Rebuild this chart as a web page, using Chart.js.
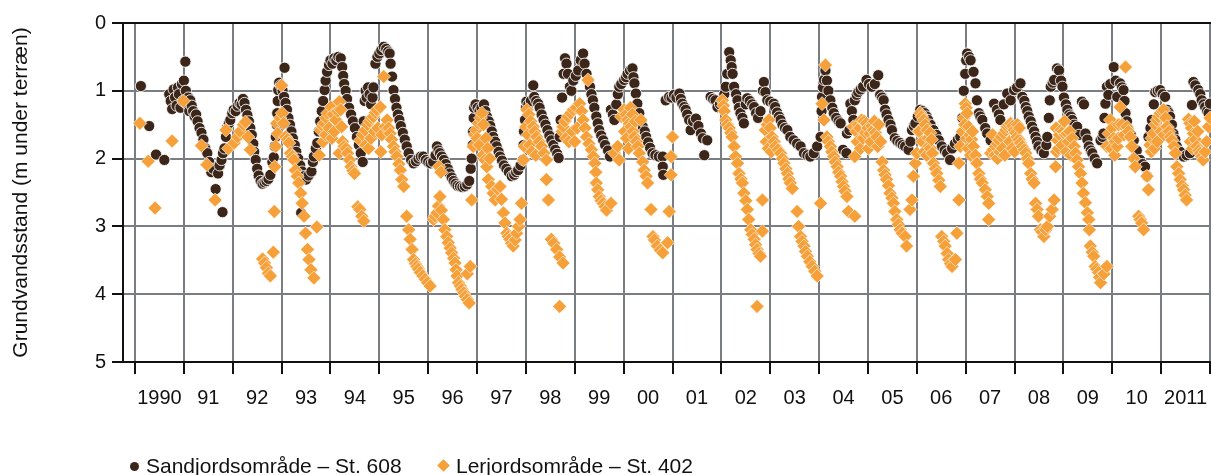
<!DOCTYPE html>
<html>
<head>
<meta charset="utf-8">
<script src="https://cdn.jsdelivr.net/npm/chart.js@4.4.1/dist/chart.umd.min.js"></script>
<style>
  html,body{margin:0;padding:0;background:#fff;overflow:hidden;}
  #wrap{position:relative;width:1211px;height:475px;}
  canvas{position:absolute;left:0;top:0;}
  .lg{position:absolute;font:21px 'Liberation Sans',Arial,sans-serif;color:#111;line-height:21px;white-space:nowrap;}
  .dot{position:absolute;width:9px;height:9px;border-radius:50%;background:#3b2619;}
  .dia{position:absolute;width:9px;height:9px;background:#f6a03a;transform:rotate(45deg);}
</style>
</head>
<body>
<div id="wrap">
  <canvas id="c" width="1211" height="475"></canvas>
  <span class="dot" style="left:130px;top:462px;"></span>
  <span class="lg" style="left:146px;top:455px;">Sandjordsområde – St. 608</span>
  <span class="dia" style="left:439px;top:461px;"></span>
  <span class="lg" style="left:456px;top:455px;">Lerjordsområde – St. 402</span>
</div>
<script>
// ---- data: [decimal year, depth in m below terrain] ----
const yearTicks = [1990,1991,1992,1993,1994,1995,1996,1997,1998,1999,2000,2001,2002,2003,2004,2005,2006,2007,2008,2009,2010,2011,2012];
const yearLabels = ['1990','91','92','93','94','95','96','97','98','99','00','01','02','03','04','05','06','07','08','09','10','2011',''];
const depthTicks = [0,1,2,3,4,5];

const sand1990s = [
[1990.12,0.93],[1990.29,1.52],[1990.43,1.94],[1990.60,2.02],[1990.70,1.05],[1990.73,1.15],[1990.76,1.27],[1990.79,0.98],[1990.82,1.1],[1990.85,1.22],[1990.88,0.95],[1990.90,1.05],[1990.93,1.25],[1990.96,0.9],[1990.98,1.15],[1991.00,0.85],[1991.03,0.57],[1991.04,1.0],[1991.06,1.2],[1991.09,1.1],[1991.11,1.3],[1991.13,1.14],[1991.16,1.22],[1991.19,1.3],[1991.22,1.38],[1991.25,1.35],[1991.28,1.45],[1991.32,1.55],[1991.36,1.62],[1991.40,1.72],[1991.44,1.85],[1991.48,1.92],[1991.52,2.05],[1991.56,2.2],[1991.60,2.15],[1991.65,2.45],[1991.70,2.22],[1991.73,2.1],[1991.79,2.79],
[1991.77,2.02],[1991.80,1.92],[1991.83,1.85],[1991.86,1.68],[1991.88,1.55],[1991.92,1.48],[1991.95,1.43],[1991.99,1.33],[1992.02,1.28],[1992.06,1.3],[1992.10,1.22],[1992.14,1.18],[1992.18,1.2],[1992.21,1.12],[1992.24,1.18],[1992.27,1.28],[1992.30,1.36],[1992.33,1.45],[1992.36,1.55],[1992.39,1.65],[1992.42,1.78],[1992.44,1.9],[1992.47,2.02],[1992.50,2.15],[1992.53,2.25],[1992.57,2.33],[1992.61,2.37],[1992.65,2.35],[1992.69,2.33],[1992.73,2.3],[1992.77,2.24],[1992.81,2.05],[1992.84,1.98],[1992.86,1.82],[1992.88,1.68],[1992.90,1.5],[1992.91,1.33],[1992.92,1.15],[1992.93,0.99],[1992.95,0.88],[1993.06,0.66],[1992.98,0.92],[1993.02,1.0],[1993.05,1.09],[1993.08,1.18],[1993.11,1.28],[1993.14,1.4],[1993.17,1.5],[1993.20,1.6],[1993.23,1.7],[1993.27,1.8],[1993.30,1.9],[1993.34,2.0],[1993.38,2.1],[1993.42,2.19],[1993.46,2.26],[1993.50,2.31],[1993.55,2.25],[1993.61,2.19],[1993.40,2.8],
[1993.64,2.05],[1993.66,1.97],[1993.70,1.85],[1993.73,1.77],[1993.76,1.6],[1993.79,1.45],[1993.82,1.3],[1993.85,1.15],[1993.88,0.99],[1993.90,0.85],[1993.93,0.72],[1993.97,0.62],[1994.00,0.55],[1994.04,0.6],[1994.08,0.52],[1994.12,0.55],[1994.16,0.5],[1994.21,0.52],[1994.24,0.65],[1994.26,0.78],[1994.28,0.9],[1994.31,1.0],[1994.34,1.12],[1994.38,1.25],[1994.42,1.35],[1994.46,1.45],[1994.50,1.55],[1994.54,1.68],[1994.58,1.8],[1994.62,1.92],[1994.66,2.05],[1994.68,1.45],[1994.70,1.15],[1994.72,1.0],[1994.74,1.1],[1994.77,0.95],[1994.80,1.05],[1994.83,1.2],[1994.86,1.1],[1994.88,0.95],[1994.92,0.6],[1994.96,0.5],[1995.00,0.45],[1995.04,0.4],[1995.09,0.35],[1995.14,0.38],[1995.18,0.42],[1995.21,0.45],[1995.23,0.6],[1995.26,0.79],[1995.29,0.99],[1995.32,1.12],[1995.35,1.25],[1995.38,1.35],[1995.41,1.43],[1995.44,1.52],[1995.48,1.62],[1995.52,1.72],[1995.56,1.82],[1995.60,1.92],[1995.65,2.02],[1995.70,2.07],[1995.75,2.04],[1995.80,2.0],[1995.85,1.97],[1995.90,1.97],[1995.95,2.02],
[1996.00,2.05],[1996.05,2.07],[1996.10,2.05],[1996.15,1.95],[1996.18,1.82],[1996.21,1.88],[1996.24,1.92],[1996.28,1.97],[1996.32,2.02],[1996.36,2.08],[1996.40,2.15],[1996.44,2.22],[1996.48,2.28],[1996.52,2.33],[1996.56,2.37],[1996.60,2.4],[1996.65,2.41],[1996.70,2.42],[1996.75,2.41],[1996.80,2.38],[1996.84,2.33],[1996.87,2.15],[1996.89,2.0],[1996.91,1.8],[1996.92,1.6],[1996.93,1.4],[1996.94,1.25],[1996.97,1.2],[1997.01,1.25],[1997.05,1.3],[1997.09,1.25],[1997.14,1.2],[1997.17,1.3],[1997.20,1.38],[1997.24,1.45],[1997.27,1.52],[1997.30,1.6],[1997.33,1.68],[1997.37,1.75],[1997.40,1.82],[1997.44,1.9],[1997.47,1.97],[1997.51,2.03],[1997.55,2.1],[1997.60,2.15],[1997.65,2.2],[1997.71,2.26],[1997.76,2.24],[1997.80,2.2],[1997.84,2.17],[1997.89,2.1],[1997.94,2.02],[1997.95,1.8],[1997.96,1.6],[1997.98,1.43],[1998.00,1.25],[1998.01,1.16],[1998.05,1.2],[1998.10,1.15],[1998.15,0.92],[1998.17,1.09],[1998.21,1.15],[1998.25,1.19],[1998.28,1.25],[1998.32,1.35],[1998.36,1.43],[1998.40,1.5],[1998.44,1.58],[1998.48,1.66],[1998.52,1.73],[1998.56,1.8],[1998.60,1.87],[1998.64,1.93],[1998.67,1.99],[1998.69,1.68],[1998.71,1.43],[1998.74,1.1],[1998.77,0.75],[1998.80,0.52],[1998.83,0.6],[1998.86,0.75],[1998.90,0.94],[1998.93,1.0],[1998.97,0.85],
[1999.02,0.78],[1999.07,0.7],[1999.12,0.55],[1999.17,0.45],[1999.20,0.6],[1999.24,0.75],[1999.28,0.85],[1999.31,0.94],[1999.34,1.05],[1999.37,1.14],[1999.40,1.25],[1999.44,1.38],[1999.47,1.48],[1999.50,1.58],[1999.54,1.66],[1999.58,1.73],[1999.62,1.8],[1999.68,1.88],[1999.72,1.97],[1999.74,1.28],[1999.78,1.35],[1999.81,1.43],[1999.85,1.2],[1999.88,1.05],[1999.91,0.94],[1999.95,0.9]
];
const sand2000s = [
[2000.01,0.84],[2000.05,0.8],[2000.08,0.75],[2000.13,0.7],[2000.18,0.67],[2000.20,0.8],[2000.22,0.89],[2000.25,1.04],[2000.28,1.19],[2000.32,1.33],[2000.36,1.45],[2000.39,1.53],[2000.43,1.6],[2000.46,1.68],[2000.50,1.76],[2000.54,1.84],[2000.59,1.92],[2000.65,1.95],[2000.72,1.97],[2000.80,1.97],[2000.80,2.12],[2000.81,2.24],[2000.86,1.14],[2000.93,1.09],[2000.98,1.1],[2001.03,1.06],[2001.08,1.1],[2001.14,1.04],[2001.17,1.12],[2001.20,1.19],[2001.24,1.24],[2001.27,1.28],[2001.30,1.35],[2001.34,1.43],[2001.37,1.58],[2001.42,1.45],[2001.48,1.41],[2001.53,1.52],[2001.58,1.63],[2001.62,1.7],[2001.65,1.95],[2001.71,1.73],[2001.78,1.09],[2001.83,1.12],[2001.88,1.14],[2001.92,1.24],[2001.97,1.2],
[2002.02,1.14],[2002.06,1.05],[2002.09,0.94],[2002.12,0.75],[2002.16,0.43],[2002.19,0.55],[2002.21,0.65],[2002.23,0.75],[2002.26,0.94],[2002.30,1.05],[2002.33,1.14],[2002.36,1.25],[2002.39,1.33],[2002.43,1.4],[2002.46,1.48],[2002.50,1.2],[2002.53,1.11],[2002.58,1.15],[2002.63,1.2],[2002.67,1.24],[2002.71,1.33],[2002.75,1.4],[2002.80,1.3],[2002.85,1.0],[2002.87,0.87],[2002.90,1.02],[2002.94,1.14],[2003.00,1.16],[2003.07,1.19],[2003.10,1.24],[2003.14,1.32],[2003.18,1.38],[2003.21,1.43],[2003.25,1.5],[2003.30,1.55],[2003.35,1.58],[2003.41,1.68],[2003.48,1.73],[2003.55,1.78],[2003.62,1.82],[2003.69,1.92],[2003.76,1.95],[2003.82,1.97],[2003.89,1.92],[2003.96,1.82],
[2004.03,1.68],[2004.05,1.3],[2004.06,1.09],[2004.08,0.95],[2004.10,0.84],[2004.13,0.7],[2004.16,0.85],[2004.19,1.0],[2004.23,1.14],[2004.27,1.25],[2004.30,1.33],[2004.35,1.4],[2004.40,1.45],[2004.44,1.48],[2004.49,1.87],[2004.56,1.92],[2004.57,1.63],[2004.62,1.58],[2004.64,1.19],[2004.67,1.3],[2004.70,1.43],[2004.73,1.14],[2004.77,1.06],[2004.80,1.02],[2004.85,0.98],[2004.90,0.94],[2004.97,0.84],[2005.02,0.9],[2005.08,0.94],[2005.14,0.9],[2005.21,0.77],[2005.25,1.06],[2005.29,1.1],[2005.32,1.14],[2005.35,1.28],[2005.38,1.35],[2005.42,1.43],[2005.46,1.5],[2005.49,1.58],[2005.55,1.7],[2005.60,1.74],[2005.66,1.77],[2005.71,1.8],[2005.76,1.82],[2005.83,1.87],[2005.87,1.75],[2005.90,1.58],[2005.94,1.52],[2005.97,1.48],
[2006.02,1.38],[2006.07,1.28],[2006.12,1.3],[2006.16,1.33],[2006.20,1.38],[2006.23,1.43],[2006.28,1.5],[2006.34,1.58],[2006.40,1.65],[2006.45,1.73],[2006.51,1.82],[2006.57,1.88],[2006.62,1.92],[2006.68,2.02],[2006.72,1.85],[2006.78,1.78],[2006.84,1.72],[2006.89,1.68],[2006.93,1.4],[2006.96,1.0],[2006.99,0.75],[2007.01,0.55],[2007.03,0.45],[2007.07,0.5],[2007.10,0.55],[2007.16,0.72],[2007.20,0.89],[2007.23,1.14],[2007.27,1.33],[2007.30,1.38],[2007.34,1.43],[2007.40,1.55],[2007.44,1.63],[2007.51,1.73],[2007.58,1.19],[2007.64,1.28],[2007.68,1.35],[2007.71,1.43],[2007.78,1.2],[2007.85,1.04],[2007.92,1.14],[2007.99,0.99],
[2008.05,0.95],[2008.12,0.89],[2008.16,1.09],[2008.20,1.15],[2008.23,1.24],[2008.26,1.3],[2008.29,1.38],[2008.33,1.45],[2008.36,1.53],[2008.40,1.6],[2008.43,1.68],[2008.46,1.75],[2008.49,1.82],[2008.55,1.88],[2008.60,1.92],[2008.65,1.8],[2008.67,1.68],[2008.70,1.4],[2008.72,1.14],[2008.74,0.94],[2008.78,0.88],[2008.81,0.84],[2008.87,0.67],[2008.91,0.7],[2008.95,0.85],[2008.98,0.94],[2009.01,1.1],[2009.05,1.2],[2009.08,1.28],[2009.12,1.35],[2009.15,1.38],[2009.18,1.43],[2009.22,1.5],[2009.28,1.53],[2009.32,1.65],[2009.38,1.16],[2009.42,1.2],[2009.45,1.63],[2009.49,1.72],[2009.52,1.82],[2009.56,1.88],[2009.59,1.92],[2009.64,2.0],[2009.69,2.07],[2009.76,1.73],[2009.80,1.68],[2009.82,1.63],[2009.84,1.4],[2009.86,1.19],[2009.89,0.94],[2009.92,1.06],[2009.96,0.9]
];
const sand2010s = [
[2010.03,0.65],[2010.07,0.85],[2010.10,1.09],[2010.16,0.89],[2010.20,0.95],[2010.23,0.99],[2010.25,1.15],[2010.27,1.33],[2010.30,1.45],[2010.33,1.58],[2010.38,1.65],[2010.44,1.73],[2010.50,1.88],[2010.57,2.02],[2010.62,2.08],[2010.67,2.12],[2010.71,2.26],[2010.74,1.68],[2010.78,1.55],[2010.81,1.43],[2010.85,1.2],[2010.88,1.02],[2010.93,1.0],[2010.98,0.99],[2011.03,1.05],[2011.08,1.09],[2011.12,1.28],[2011.15,1.32],[2011.18,1.38],[2011.22,1.5],[2011.25,1.63],[2011.29,1.72],[2011.32,1.82],[2011.39,1.9],[2011.46,1.97],[2011.52,1.95],[2011.59,1.92],[2011.61,1.5],[2011.63,1.21],[2011.66,0.87],[2011.70,0.92],[2011.76,0.99],[2011.80,1.05],[2011.83,1.14],[2011.87,1.2],[2011.90,1.24],[2011.94,1.3],[2011.97,1.33],[2012.00,1.19]
];

const clay1990s = [
[1990.10,1.48],[1990.27,2.04],[1990.41,2.73],[1990.76,1.74],[1990.99,1.15],[1991.36,1.81],[1991.47,2.09],[1991.64,2.61],[1991.86,1.58],[1991.91,1.85],[1992.03,1.77],[1992.10,1.68],[1992.15,1.6],[1992.22,1.5],[1992.26,1.46],[1992.31,1.68],[1992.36,1.87],[1992.61,3.48],[1992.65,3.54],[1992.69,3.61],[1992.73,3.69],[1992.77,3.73],[1992.83,3.38],[1992.85,2.78],[1992.86,2.12],[1992.88,1.82],[1992.90,1.48],[1992.92,1.63],[1992.97,1.4],[1993.00,0.92],[1993.01,1.33],[1993.04,1.48],[1993.08,1.68],[1993.12,1.72],[1993.15,1.77],[1993.18,1.92],[1993.22,1.97],[1993.25,2.02],[1993.28,2.17],[1993.32,2.26],[1993.35,2.36],[1993.39,2.51],[1993.42,2.66],[1993.46,2.85],[1993.49,3.1],[1993.53,3.34],[1993.56,3.49],[1993.60,3.64],[1993.66,3.76],[1993.72,3.01],
[1993.77,1.95],[1993.80,1.58],[1993.84,1.52],[1993.85,1.75],[1993.87,1.48],[1993.90,1.65],[1993.91,1.4],[1993.94,1.33],[1993.97,1.55],[1994.01,1.24],[1994.03,1.7],[1994.05,1.35],[1994.08,1.6],[1994.11,1.43],[1994.15,1.3],[1994.18,1.16],[1994.21,1.28],[1994.23,1.53],[1994.18,1.92],[1994.25,1.75],[1994.28,1.82],[1994.32,1.85],[1994.35,1.92],[1994.39,2.02],[1994.42,2.12],[1994.46,2.18],[1994.49,2.22],[1994.56,2.71],[1994.60,2.75],[1994.64,2.85],[1994.68,2.92],[1994.61,1.73],[1994.66,1.65],[1994.71,1.58],[1994.72,1.8],[1994.76,1.5],[1994.78,1.85],[1994.80,1.45],[1994.83,1.7],[1994.84,1.4],[1994.88,1.38],[1994.90,1.6],[1994.92,1.32],[1994.95,1.28],[1994.97,1.55],[1995.02,1.24],[1995.03,1.9],[1995.05,1.65],[1995.09,0.79],[1995.12,1.53],[1995.16,1.43],[1995.19,1.55],[1995.22,1.63],[1995.25,1.72],[1995.29,1.82],[1995.32,1.9],[1995.36,1.97],[1995.40,2.08],[1995.43,2.17],[1995.46,2.31],[1995.50,2.41],[1995.56,2.85],[1995.60,3.05],[1995.63,3.19],[1995.67,3.34],[1995.70,3.49],[1995.74,3.55],[1995.77,3.59],[1995.80,3.63],[1995.84,3.68],[1995.89,3.73],[1995.94,3.78],[1995.99,3.83],
[1996.04,3.88],[1996.11,2.9],[1996.14,2.85],[1996.18,2.8],[1996.21,2.7],[1996.24,2.56],[1996.22,2.12],[1996.26,2.2],[1996.27,2.76],[1996.31,2.9],[1996.34,3.05],[1996.38,3.15],[1996.41,3.24],[1996.45,3.32],[1996.48,3.39],[1996.52,3.47],[1996.55,3.54],[1996.57,3.64],[1996.59,3.73],[1996.62,3.83],[1996.66,3.88],[1996.69,3.93],[1996.73,3.98],[1996.76,4.03],[1996.80,4.08],[1996.84,4.13],[1996.80,3.7],[1996.86,3.59],[1996.89,2.61],[1996.92,1.82],[1996.95,1.65],[1996.98,1.58],[1997.00,1.7],[1997.03,1.48],[1997.05,1.8],[1997.07,1.4],[1997.10,1.33],[1997.12,1.95],[1997.13,1.5],[1997.16,2.02],[1997.18,1.7],[1997.20,2.12],[1997.22,1.85],[1997.23,2.31],[1997.26,2.0],[1997.30,2.41],[1997.33,2.51],[1997.37,2.61],[1997.42,2.45],[1997.47,2.41],[1997.50,2.6],[1997.54,2.8],[1997.57,2.95],[1997.61,3.1],[1997.64,3.15],[1997.67,3.19],[1997.71,3.25],[1997.74,3.29],[1997.78,3.2],[1997.81,3.1],[1997.85,3.0],[1997.88,2.9],[1997.91,2.66],[1997.95,2.02],[1997.97,1.82],
[1998.00,1.53],[1998.02,1.28],[1998.04,1.65],[1998.06,1.35],[1998.08,1.8],[1998.10,1.45],[1998.12,1.9],[1998.15,1.53],[1998.18,1.6],[1998.20,1.95],[1998.22,1.68],[1998.27,1.75],[1998.32,1.82],[1998.37,1.92],[1998.42,2.02],[1998.42,2.31],[1998.46,2.61],[1998.52,3.19],[1998.57,3.25],[1998.63,3.34],[1998.69,3.45],[1998.76,3.54],[1998.69,4.18],[1998.74,1.6],[1998.76,1.53],[1998.80,1.45],[1998.82,1.7],[1998.86,1.38],[1998.88,1.75],[1998.92,1.33],[1998.95,1.6],[1998.97,1.28],[1999.00,1.75],[1999.03,1.25],[1999.05,1.55],[1999.10,1.19],[1999.14,1.3],[1999.17,1.43],[1999.21,1.55],[1999.24,1.68],[1999.27,0.84],[1999.29,1.78],[1999.34,1.87],[1999.38,1.97],[1999.41,2.07],[1999.43,2.2],[1999.44,2.36],[1999.47,2.46],[1999.50,2.56],[1999.54,2.62],[1999.58,2.66],[1999.62,2.71],[1999.65,2.76],[1999.74,2.66],[1999.81,1.92],[1999.88,1.82],[1999.91,2.02],[1999.95,1.38]
];
const clay2000s = [
[2000.01,1.28],[2000.02,1.6],[2000.05,1.35],[2000.06,1.7],[2000.08,1.43],[2000.10,1.85],[2000.12,1.48],[2000.14,1.25],[2000.15,1.53],[2000.18,1.35],[2000.19,1.6],[2000.22,1.68],[2000.24,1.45],[2000.26,1.75],[2000.29,1.82],[2000.32,1.92],[2000.35,1.43],[2000.39,2.05],[2000.42,2.17],[2000.46,2.26],[2000.49,2.36],[2000.56,2.75],[2000.60,3.15],[2000.63,3.2],[2000.69,3.29],[2000.75,3.35],[2000.80,3.39],[2000.90,3.24],[2000.93,2.78],[2000.97,2.24],[2000.97,1.97],[2001.00,1.68],
[2002.02,1.14],[2002.04,1.22],[2002.06,1.3],[2002.09,1.43],[2002.12,1.5],[2002.16,1.55],[2002.19,1.62],[2002.22,1.68],[2002.26,1.82],[2002.29,1.97],[2002.33,2.07],[2002.36,2.22],[2002.40,2.3],[2002.43,2.36],[2002.46,2.51],[2002.50,2.62],[2002.53,2.75],[2002.56,2.9],[2002.60,3.05],[2002.63,3.12],[2002.67,3.19],[2002.70,3.27],[2002.73,3.34],[2002.77,3.4],[2002.80,3.44],[2002.73,4.18],[2002.84,2.61],[2002.84,3.07],[2002.90,1.58],[2002.92,1.75],[2002.94,1.5],[2002.96,1.85],[2002.97,1.43],[2003.00,1.55],[2003.02,1.9],[2003.04,1.68],[2003.08,1.75],[2003.11,1.82],[2003.16,1.87],[2003.21,1.92],[2003.25,2.0],[2003.28,2.07],[2003.32,2.15],[2003.35,2.22],[2003.38,2.3],[2003.41,2.36],[2003.45,2.44],[2003.55,2.78],[2003.58,3.0],[2003.62,3.15],[2003.65,3.22],[2003.69,3.29],[2003.72,3.37],[2003.76,3.44],[2003.81,3.52],[2003.86,3.59],[2003.91,3.66],[2003.96,3.73],
[2004.03,2.66],[2004.06,1.19],[2004.10,1.43],[2004.13,0.62],[2004.16,1.68],[2004.19,1.75],[2004.23,1.82],[2004.26,1.9],[2004.30,1.97],[2004.33,2.05],[2004.37,2.12],[2004.40,2.2],[2004.44,2.26],[2004.47,2.34],[2004.50,2.41],[2004.53,2.48],[2004.57,2.56],[2004.60,2.78],[2004.73,2.85],[2004.70,1.53],[2004.73,1.97],[2004.76,1.6],[2004.78,1.75],[2004.80,1.5],[2004.83,1.55],[2004.85,1.85],[2004.87,1.43],[2004.90,1.7],[2004.92,1.45],[2004.95,1.62],[2004.97,1.48],[2005.00,1.55],[2005.01,1.85],[2005.04,1.63],[2005.06,1.75],[2005.08,1.52],[2005.11,1.58],[2005.13,1.45],[2005.15,1.62],[2005.18,1.68],[2005.20,1.82],[2005.22,1.5],[2005.26,1.75],[2005.29,2.05],[2005.32,2.17],[2005.35,2.24],[2005.38,2.31],[2005.42,2.4],[2005.45,2.51],[2005.49,2.58],[2005.52,2.66],[2005.55,2.78],[2005.59,2.9],[2005.62,2.97],[2005.66,3.05],[2005.70,3.1],[2005.76,3.15],[2005.79,3.29],[2005.86,2.75],[2005.90,2.61],[2005.93,2.26],[2005.97,2.07],
[2006.00,1.92],[2006.03,1.6],[2006.05,1.6],[2006.07,1.33],[2006.10,1.38],[2006.11,1.75],[2006.14,1.43],[2006.15,1.9],[2006.17,1.5],[2006.20,1.95],[2006.21,1.58],[2006.23,1.7],[2006.25,1.82],[2006.27,1.62],[2006.28,1.85],[2006.30,1.72],[2006.32,1.92],[2006.34,2.07],[2006.38,2.15],[2006.41,2.22],[2006.45,2.32],[2006.48,2.41],[2006.51,3.15],[2006.55,3.22],[2006.58,3.29],[2006.62,3.4],[2006.65,3.49],[2006.69,3.55],[2006.72,3.59],[2006.79,3.49],[2006.82,3.1],[2006.86,2.61],[2006.86,2.07],[2006.89,1.82],[2006.93,1.6],[2006.96,1.4],[2006.98,1.5],[2006.99,1.19],[2007.01,1.25],[2007.02,1.7],[2007.03,1.33],[2007.05,1.85],[2007.06,1.53],[2007.09,1.65],[2007.10,1.95],[2007.12,1.72],[2007.14,1.6],[2007.16,1.82],[2007.20,1.95],[2007.23,2.07],[2007.27,2.22],[2007.30,2.3],[2007.34,2.36],[2007.40,2.46],[2007.44,2.56],[2007.47,2.66],[2007.47,2.9],[2007.51,1.92],[2007.55,1.65],[2007.56,1.87],[2007.60,1.95],[2007.61,1.82],[2007.65,2.0],[2007.65,1.78],[2007.68,1.73],[2007.70,1.9],[2007.73,1.68],[2007.75,1.85],[2007.78,1.63],[2007.80,1.95],[2007.82,1.58],[2007.85,1.53],[2007.88,1.5],[2007.90,1.75],[2007.92,1.48],[2007.95,1.85],[2007.96,1.52],
[2007.99,1.58],[2008.00,1.9],[2008.02,1.62],[2008.05,1.68],[2008.06,1.5],[2008.09,1.72],[2008.10,1.55],[2008.12,1.77],[2008.16,1.82],[2008.20,1.87],[2008.23,1.92],[2008.26,2.0],[2008.29,2.07],[2008.33,2.22],[2008.36,2.3],[2008.40,2.36],[2008.43,2.66],[2008.46,2.75],[2008.49,2.85],[2008.53,3.05],[2008.56,3.08],[2008.60,3.15],[2008.64,3.05],[2008.67,3.0],[2008.72,2.85],[2008.77,2.75],[2008.81,2.61],[2008.84,2.12],[2008.85,1.55],[2008.86,1.9],[2008.88,1.73],[2008.90,1.85],[2008.92,1.65],[2008.95,1.58],[2008.97,1.8],[2009.00,1.6],[2009.02,1.45],[2009.04,1.65],[2009.06,1.9],[2009.08,1.63],[2009.10,1.75],[2009.13,1.6],[2009.15,1.95],[2009.18,1.7],[2009.22,1.82],[2009.25,1.92],[2009.28,2.02],[2009.31,2.12],[2009.35,2.22],[2009.38,2.36],[2009.41,2.51],[2009.45,2.65],[2009.49,2.8],[2009.52,2.9],[2009.53,3.05],[2009.55,3.29],[2009.59,3.38],[2009.62,3.44],[2009.65,3.59],[2009.68,3.63],[2009.72,3.68],[2009.74,3.75],[2009.76,3.83],[2009.83,3.7],[2009.89,3.59],[2009.89,1.82],[2009.93,1.63],[2009.96,1.43],[2009.98,1.85]
];
const clay2010s = [
[2010.00,1.55],[2010.03,1.7],[2010.05,1.95],[2010.06,1.75],[2010.10,1.82],[2010.12,1.7],[2010.13,1.5],[2010.16,1.24],[2010.20,1.5],[2010.24,1.65],[2010.27,0.65],[2010.30,1.53],[2010.33,1.6],[2010.37,1.68],[2010.40,1.82],[2010.44,2.0],[2010.47,2.12],[2010.54,2.85],[2010.57,2.9],[2010.60,2.95],[2010.64,3.05],[2010.71,2.26],[2010.74,2.46],[2010.77,1.8],[2010.80,1.9],[2010.81,1.7],[2010.84,1.63],[2010.86,1.85],[2010.88,1.5],[2010.91,1.43],[2010.92,1.75],[2010.95,1.38],[2010.98,1.33],[2011.00,1.6],[2011.02,1.3],[2011.05,1.28],[2011.06,1.65],[2011.09,1.4],[2011.12,1.53],[2011.16,1.6],[2011.19,1.68],[2011.22,1.73],[2011.26,1.82],[2011.29,1.92],[2011.32,2.12],[2011.36,2.22],[2011.39,2.31],[2011.43,2.4],[2011.46,2.46],[2011.49,2.54],[2011.52,2.61],[2011.56,1.42],[2011.59,1.48],[2011.60,1.75],[2011.62,1.55],[2011.64,1.85],[2011.66,1.63],[2011.68,1.45],[2011.70,1.72],[2011.73,1.82],[2011.75,1.6],[2011.77,1.88],[2011.80,1.92],[2011.83,1.97],[2011.86,2.02],[2011.90,1.9],[2011.93,1.75],[2011.97,1.53],[2012.00,1.4]
];

const toXY = arr => arr.map(p => ({x: p[0], y: p[1]}));
const sandData = toXY([...sand1990s, ...sand2000s, ...sand2010s]);
const clayData = toXY([...clay1990s, ...clay2000s, ...clay2010s]);

const FONT = "'Liberation Sans', Arial, Helvetica, sans-serif";
const GRID = '#7a7d81';
const INK = '#111111';

new Chart(document.getElementById('c'), {
  type: 'scatter',
  data: {
    datasets: [
      { label: 'Sandjordsområde – St. 608', data: sandData, order: 1,
        pointStyle: 'circle', pointRadius: 5.6, pointHoverRadius: 5.6,
        backgroundColor: '#3b2619', borderColor: 'rgba(255,255,255,0.85)', borderWidth: 1 },
      { label: 'Lerjordsområde – St. 402', data: clayData, order: 0,
        pointStyle: 'rectRot', pointRadius: 7, pointHoverRadius: 7,
        backgroundColor: '#f6a03a', borderColor: 'rgba(255,255,255,0.6)', borderWidth: 1 }
    ]
  },
  options: {
    responsive: false,
    animation: false,
    devicePixelRatio: 1,
    layout: { autoPadding: false, padding: { top: 23, right: 0, left: 0, bottom: 0 } },
    plugins: { legend: { display: false }, tooltip: { enabled: false } },
    scales: {
      x: {
        type: 'linear', position: 'bottom', min: 1989.754, max: 2012.02,
        afterBuildTicks: s => { s.ticks = yearTicks.map(v => ({ value: v })); },
        afterFit: s => { s.height = 113; s.paddingLeft = 0; s.paddingRight = 0; },
        ticks: { autoSkip: false, maxRotation: 0, minRotation: 0, labelOffset: 24.4, padding: 12,
                 color: INK, font: { family: FONT, size: 20 },
                 callback: (v, i) => yearLabels[i] },
        grid: { color: GRID, lineWidth: 2, tickLength: 12, tickColor: INK, tickWidth: 2 },
        border: { color: INK, width: 2 }
      },
      y: {
        type: 'linear', reverse: true, min: 0, max: 5,
        afterBuildTicks: s => { s.ticks = depthTicks.map(v => ({ value: v })); },
        afterFit: s => { s.width = 123; },
        ticks: { padding: 6, color: INK, font: { family: FONT, size: 20 },
                 callback: v => String(v) },
        grid: { color: c => (c.tick && (c.tick.value === 0 || c.tick.value === 5)) ? INK : GRID,
                lineWidth: 2, tickLength: 11, tickColor: INK, tickWidth: 2 },
        border: { color: INK, width: 2 },
        title: { display: true, text: 'Grundvandsstand (m under terræn)', color: INK,
                 font: { family: FONT, size: 21 }, padding: { top: 9, bottom: 4 } }
      }
    }
  }
});
</script>
</body>
</html>
